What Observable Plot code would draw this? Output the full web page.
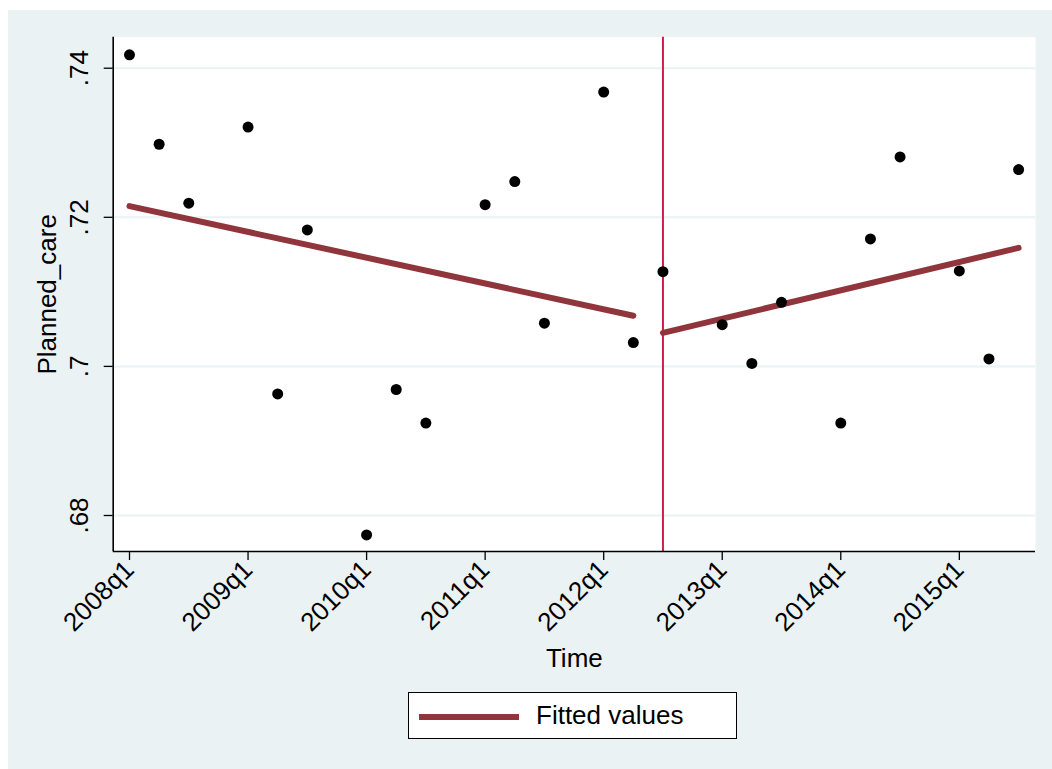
<!DOCTYPE html>
<html>
<head>
<meta charset="utf-8">
<script src="https://cdn.jsdelivr.net/npm/d3@7"></script>
<script src="https://cdn.jsdelivr.net/npm/@observablehq/plot@0.6"></script>
<style>
  html, body { margin: 0; padding: 0; background: #ffffff; }
  #page { position: relative; width: 1052px; height: 769px; overflow: hidden; }
  #bg { position: absolute; left: 8px; top: 10px; right: 0; bottom: 0; background: #eaf2f3; }
  #chart { position: absolute; left: 0; top: 0; }
  #legend {
    position: absolute; left: 408px; top: 692px; width: 327px; height: 45px;
    background: #ffffff; border: 1.5px solid #000000;
    font-family: "Liberation Sans", Arial, sans-serif; font-size: 26px; color: #000;
  }
  #legend .swatch { position: absolute; left: 10px; top: 21px; width: 100px; height: 6px; background: #90353b; }
  #legend .label { position: absolute; left: 127px; top: 7px; line-height: 30px; white-space: nowrap; }
</style>
</head>
<body>
<div id="page">
  <div id="bg"></div>
  <div id="chart"></div>
  <div id="legend"><div class="swatch"></div><div class="label">Fitted values</div></div>
</div>
<script>
// ---- Data ----
const periods = ["2008q1","2008q2","2008q3","2009q1","2009q2","2009q3","2010q1","2010q2","2010q3",
                 "2011q1","2011q2","2011q3","2012q1","2012q2","2012q3","2013q1","2013q2","2013q3",
                 "2014q1","2014q2","2014q3","2015q1","2015q2","2015q3"];
const plannedCare = [0.7418,0.7298,0.7219,0.7321,0.6963,0.7183,0.6774,0.6969,0.6924,
                     0.7217,0.7248,0.7058,0.7368,0.7032,0.7127,0.7056,0.7004,0.7086,
                     0.6924,0.7171,0.7281,0.7128,0.7010,0.7264];

const fitPeriodsPre = ["2008q1","2012q2"];
const fitValuesPre = [0.7215,0.7068];
const fitPeriodsPost = ["2012q3","2015q3"];
const fitValuesPost = [0.7045,0.7159];

const interventionPeriod = ["2012q3"];

const xTickLabels = ["2008q1","2009q1","2010q1","2011q1","2012q1","2013q1","2014q1","2015q1"];
const yTicks = [0.68,0.70,0.72,0.74];
const yTickLabels = [".68",".7",".72",".74"];

// ---- helpers ----
const qIndex = p => (+p.slice(0,4) - 2008) * 4 + (+p.slice(5) - 1);
const points = periods.map((p,i) => ({t: qIndex(p), v: plannedCare[i]}));
const fitPre = fitPeriodsPre.map((p,i) => ({t: qIndex(p), v: fitValuesPre[i]}));
const fitPost = fitPeriodsPost.map((p,i) => ({t: qIndex(p), v: fitValuesPost[i]}));
const xTicks = xTickLabels.map(qIndex);
const xDomain = [-0.55, 30.57];
const yDomain = [0.67517, 0.74416];

const maroon = "#90353b";
const red = "#cf1f4b";
const grid = "#eaf2f3";

const chart = Plot.plot({
  width: 1052,
  height: 640,
  marginLeft: 112.7,
  marginRight: 17,
  marginTop: 36.7,
  marginBottom: 89,
  style: {background: "transparent", fontFamily: "'Liberation Sans', Arial, sans-serif", fontSize: "26px", color: "#000", overflow: "visible"},
  x: {domain: xDomain, label: null},
  y: {domain: yDomain, label: null},
  marks: [
    Plot.frame({fill: "white", stroke: null}),
    Plot.gridY(yTicks, {stroke: grid, strokeOpacity: 1, strokeWidth: 2}),
    Plot.ruleX(interventionPeriod.map(qIndex), {stroke: red, strokeWidth: 2}),
    Plot.line(fitPre, {x: "t", y: "v", stroke: maroon, strokeWidth: 6, strokeLinecap: "round"}),
    Plot.line(fitPost, {x: "t", y: "v", stroke: maroon, strokeWidth: 6, strokeLinecap: "round"}),
    Plot.dot(points, {x: "t", y: "v", r: 5.5, fill: "black", stroke: null}),
    Plot.ruleX([xDomain[0]], {stroke: "black", strokeWidth: 1.6}),
    Plot.ruleY([yDomain[0]], {stroke: "black", strokeWidth: 1.6}),
    Plot.axisY(yTicks, {anchor: "left", tickSize: 9, tickRotate: -90, tickPadding: 16,
      tickFormat: d => yTickLabels[yTicks.indexOf(d)], fontSize: 26, label: null, stroke: "black", strokeWidth: 1.3}),
    Plot.axisX(xTicks, {anchor: "bottom", tickSize: 9, tickRotate: -45, tickPadding: 5,
      tickFormat: d => xTickLabels[xTicks.indexOf(d)], fontSize: 26, label: null, stroke: "black", strokeWidth: 1.3}),
    Plot.text(["Time"], {text: d => d, frameAnchor: "bottom", dy: 115, lineAnchor: "bottom", fontSize: 26, fill: "black"}),
    Plot.text(["Planned_care"], {text: d => d, frameAnchor: "left", dx: -57, rotate: -90, lineAnchor: "bottom", textAnchor: "middle", fontSize: 26, fill: "black"})
  ]
});
document.getElementById("chart").appendChild(chart);
</script>
</body>
</html>
